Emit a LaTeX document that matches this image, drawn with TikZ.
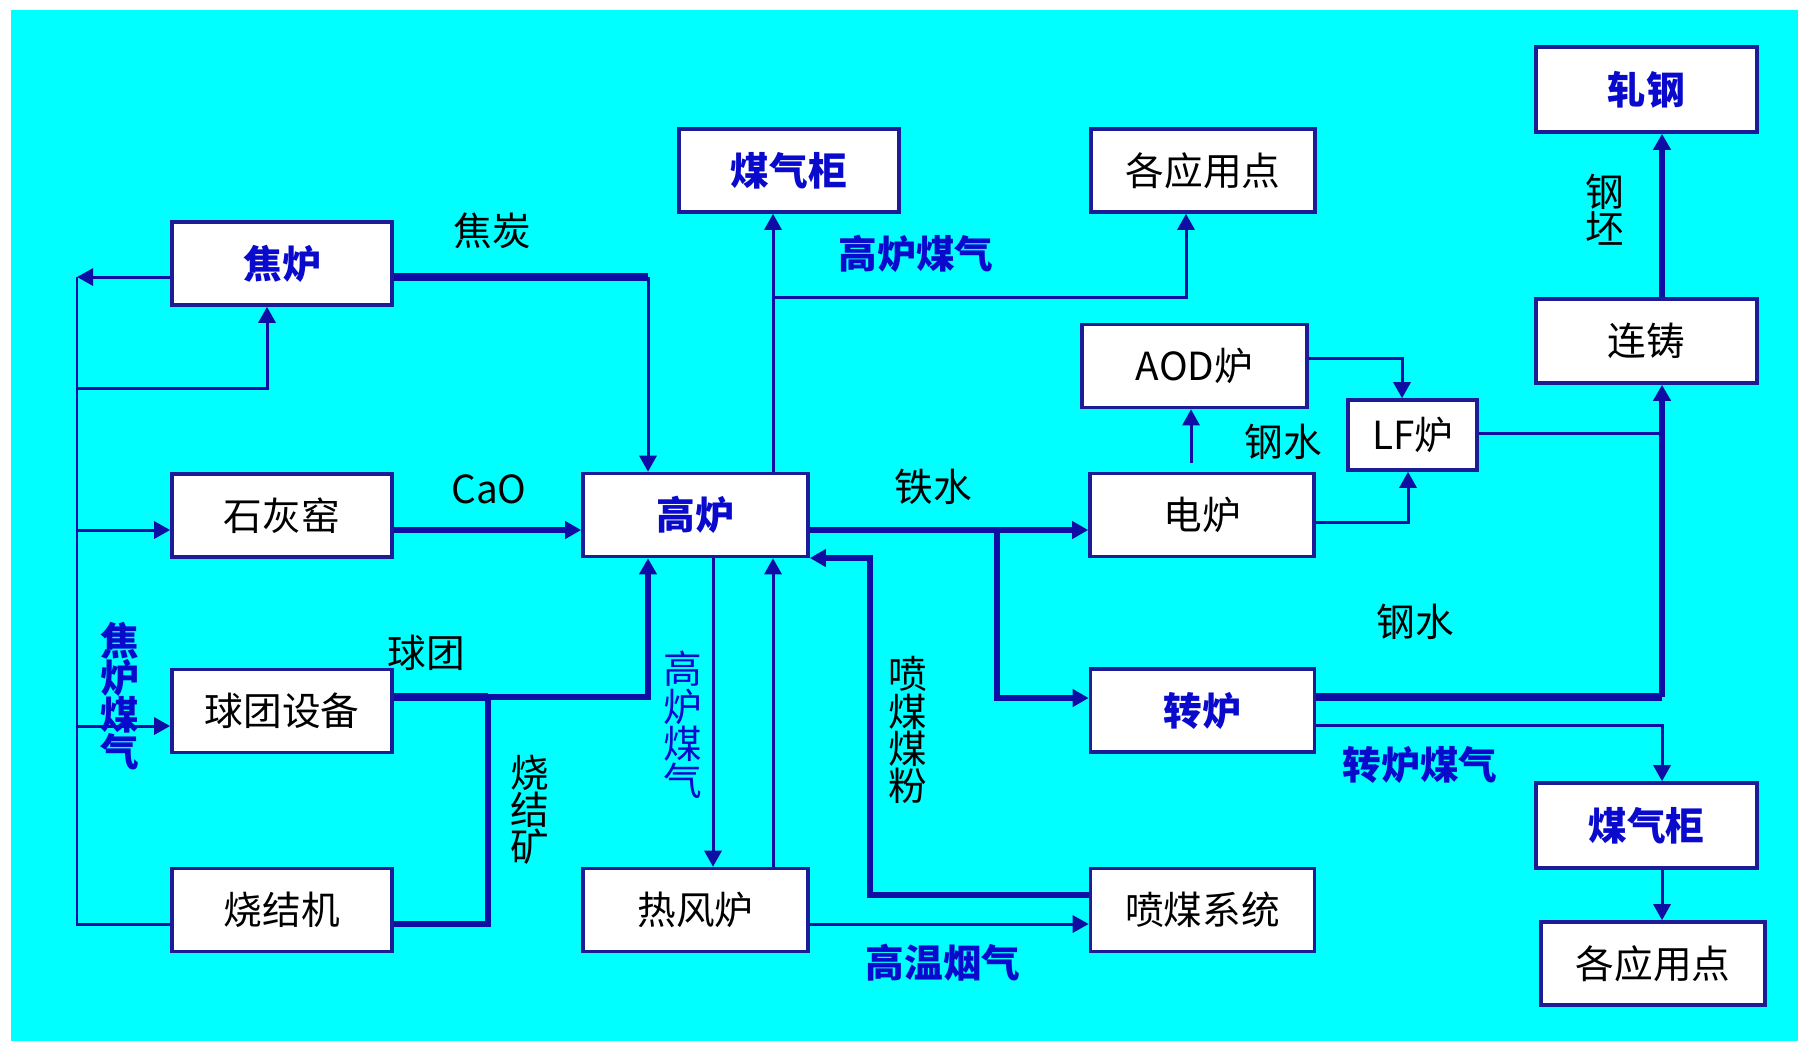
\documentclass[tikz,border=0pt]{standalone}
\usepackage{fontspec}
\setmainfont{Noto Sans CJK SC}
\usetikzlibrary{arrows.meta}
\definecolor{bgcyan}{RGB}{0,255,255}
\definecolor{linecol}{RGB}{14,14,165}
\definecolor{boxcol}{RGB}{28,28,150}
\definecolor{labblue}{RGB}{10,10,205}
\tikzset{
  block/.style={draw=boxcol, line width=1pt, fill=white, minimum width=2.2cm,
    minimum height=0.83cm, inner sep=0pt, font=\fontsize{11}{13}\selectfont},
  hotblock/.style={block, text=labblue, font=\fontsize{11}{13}\selectfont\bfseries},
  flow/.style={draw=linecol, line width=0.85pt},
  medium/.style={draw=linecol, line width=1.5pt},
  heavy/.style={draw=linecol, line width=2.3pt},
  lab/.style={font=\fontsize{11}{13}\selectfont},
  blulab/.style={lab, text=labblue, font=\fontsize{11}{13}\selectfont\bfseries},
  vlab/.style={align=center, inner sep=0pt, font=\fontsize{11}{10.6}\selectfont},
}
\begin{document}
\begin{tikzpicture}[x=0.01cm, y=-0.01cm, >={Triangle[length=0.16cm,width=0.17cm]}]
\useasboundingbox (0,0) rectangle (1798,1041);
\fill[white] (0,0) rectangle (1798,1041);
\fill[bgcyan] (11,10) rectangle (1798,1041);

% boxes
\node[hotblock] (jiaolu) at (282,263.5) {焦炉};
\node[block] (shihui) at (282,515.5) {石灰窑};
\node[block] (qiutuan) at (282,711) {球团设备};
\node[block] (shaojie) at (282,910) {烧结机};
\node[hotblock, minimum width=2.25cm] (gaolu) at (695.5,515) {高炉};
\node[block, minimum width=2.25cm] (refeng) at (695.5,910) {热风炉};
\node[hotblock] (guitop) at (789,170.5) {煤气柜};
\node[block, minimum width=2.24cm] (usetop) at (1203,170.5) {各应用点};
\node[block, minimum width=2.25cm] (aod) at (1194.5,366) {AOD炉};
\node[block, minimum width=1.29cm, minimum height=0.7cm] (lf) at (1412.5,435) {LF炉};
\node[block, minimum width=2.24cm] (dianlu) at (1202,515) {电炉};
\node[hotblock, minimum width=2.24cm] (zhuanlu) at (1202.5,710.5) {转炉};
\node[block, minimum width=2.24cm] (penmei) at (1202.5,910) {喷煤系统};
\node[hotblock, minimum width=2.21cm, minimum height=0.85cm] (zhagang) at (1646.5,89.5) {轧钢};
\node[block, minimum width=2.21cm, minimum height=0.84cm] (lianzhu) at (1646.5,341) {连铸};
\node[hotblock, minimum width=2.21cm, minimum height=0.85cm] (guibot) at (1646.5,825.5) {煤气柜};
\node[block, minimum width=2.24cm] (usebot) at (1653,963.5) {各应用点};

% junction points
\coordinate (lt) at (77,277);
\coordinate (lb) at (77,924);
\coordinate (kb) at (267,388);
\coordinate (shl) at (77,530);
\coordinate (qtl) at (77,726);
\coordinate (jt) at (648,277);
\coordinate (qt) at (488,697);
\coordinate (gm) at (773,297);
\coordinate (yy) at (1186,297);
\coordinate (hd) at (713,700);
\coordinate (pm) at (870,558);
\coordinate (pmb) at (870,895);
\coordinate (tsh) at (997,530);
\coordinate (zl) at (997,698);
\coordinate (ea) at (1191,463);
\coordinate (al) at (1402,358);
\coordinate (el) at (1408,522);
\coordinate (lz) at (1662,433);
\coordinate (zz) at (1662,697);
\coordinate (zm) at (1662,725);

% coke oven gas loop
\draw[flow,->] (jiaolu.west |- lt) -- (lt);
\draw[flow] (lt) -- (lb) -- (shaojie.west |- lb);
\draw[flow,->] (kb -| lt) -- (kb) -- (kb |- jiaolu.south);
\draw[flow,->] (shl) -- (shl -| shihui.west);
\draw[flow,->] (qtl) -- (qtl -| qiutuan.west);

% raw materials into the furnace
\draw[heavy] (jt -| jiaolu.east) -- (jt);
\draw[flow,->] (jt) -- (jt |- gaolu.north);
\draw[medium,->] (shl -| shihui.east) -- (shl -| gaolu.west);
\draw[heavy] (qt -| qiutuan.east) -- (qt);
\draw[medium,->] (qt) -| (jt |- gaolu.south);
\draw[medium] (lb -| shaojie.east) -| (qt);

% blast furnace gas
\draw[flow,->] (gm |- gaolu.north) -- (gm |- guitop.south);
\draw[flow,->] (gm) -- (yy) -- (yy |- usetop.south);
\draw[flow,->] (hd |- gaolu.south) -- (hd |- refeng.north);
\draw[flow,->] (gm |- refeng.north) -- (gm |- gaolu.south);
\draw[flow,->] (lb -| refeng.east) -- (lb -| penmei.west);
\draw[medium,->] (pmb -| penmei.west) -- (pmb) -- (pm) -- (pm -| gaolu.east);

% hot metal and steel
\draw[medium,->] (shl -| gaolu.east) -- (shl -| dianlu.west);
\draw[medium,->] (tsh) -- (zl) -- (zl -| zhuanlu.west);
\draw[flow,->] (ea) -- (ea |- aod.south);
\draw[flow,->] (al -| aod.east) -- (al) -- (al |- lf.north);
\draw[flow,->] (el -| dianlu.east) -- (el) -- (el |- lf.south);
\draw[flow] (lz -| lf.east) -- (lz);
\draw[heavy] (zz -| zhuanlu.east) -- (zz);
\draw[medium,->] (zz) -- (zz |- lianzhu.south);
\draw[medium,->] (zz |- lianzhu.north) -- (zz |- zhagang.south);
\draw[flow,->] (zm -| zhuanlu.east) -- (zm) -- (zm |- guibot.north);
\draw[flow,->] (zm |- guibot.south) -- (zm |- usebot.north);

% labels
\node[lab] (lcoke) at (492,231) {焦炭};
\node[lab] (lcao) at (489,489) {CaO};
\node[lab] (lpellet) at (426,653) {球团};
\node[vlab] (lsinter) at (530,810) {烧\\结\\矿};
\node[vlab, text=labblue, font=\fontsize{11}{10.6}\selectfont\bfseries] (lcog) at (120,696) {焦\\炉\\煤\\气};
\node[blulab] (lbfg) at (916,254) {高炉煤气};
\node[vlab, text=labblue] (lbfgv) at (683,725) {高\\炉\\煤\\气};
\node[vlab] (lcoal) at (908,730) {喷\\煤\\煤\\粉};
\node[blulab] (lflue) at (943,963) {高温烟气};
\node[lab] (liron) at (933,487) {铁水};
\node[lab] (lsteel) at (1283,442) {钢水};
\node[lab] (lsteelb) at (1415,622) {钢水};
\node[blulab] (lldg) at (1420,765) {转炉煤气};
\node[vlab] (lbillet) at (1605,210) {钢\\坯};
\end{tikzpicture}
\end{document}
